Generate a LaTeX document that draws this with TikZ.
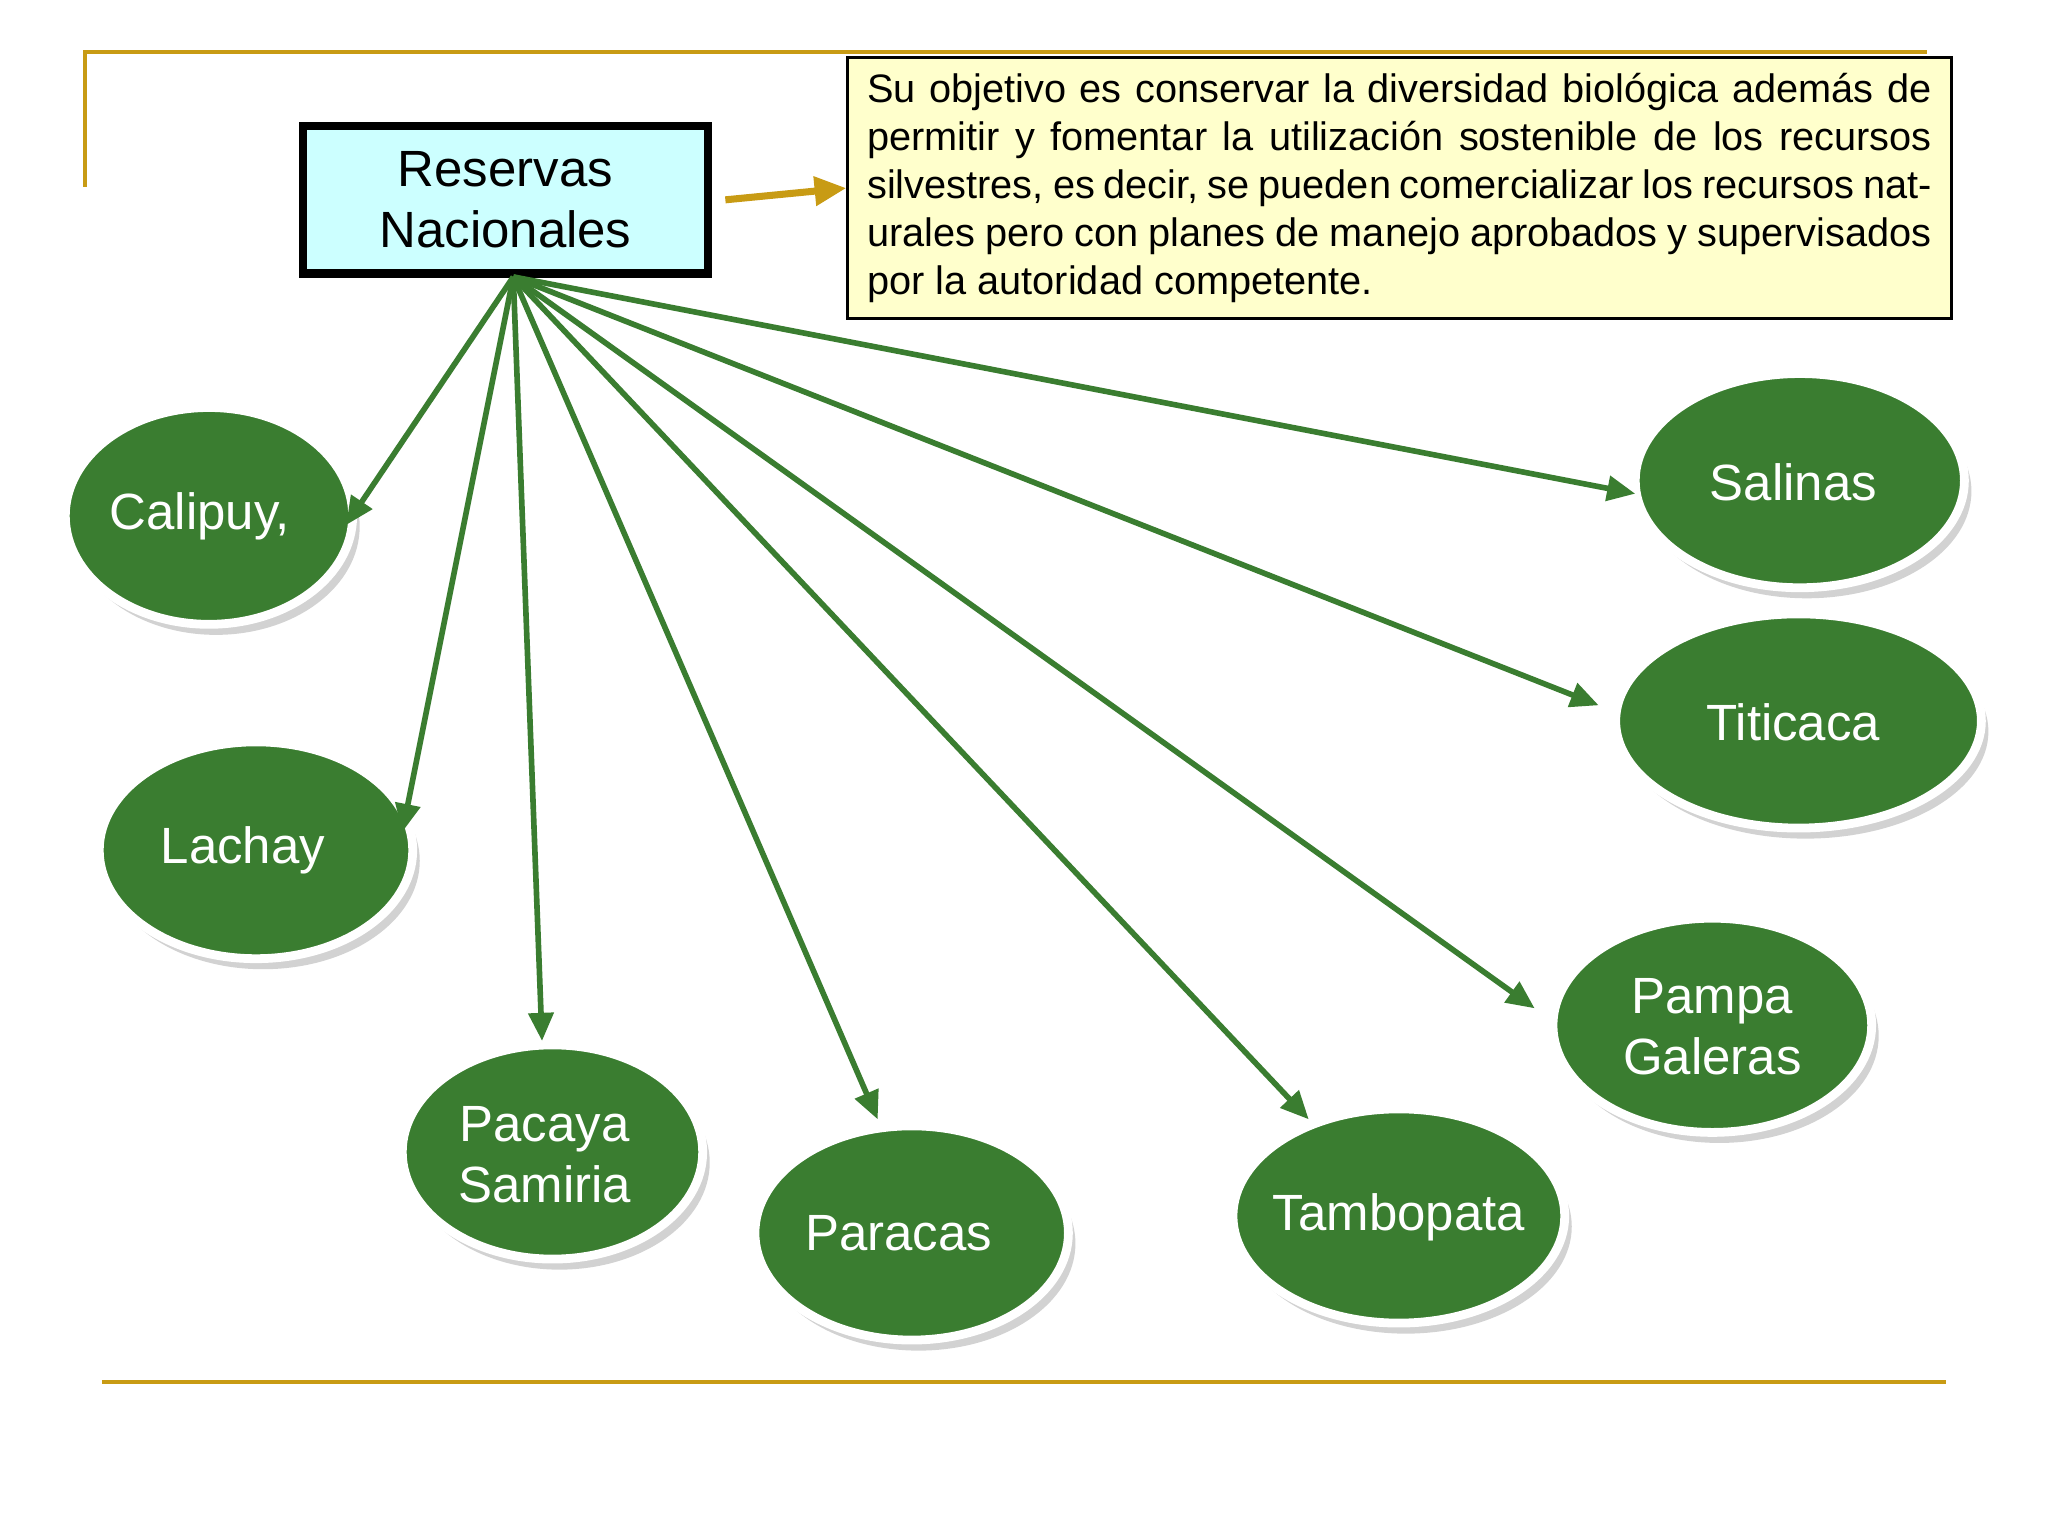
\documentclass[tikz,border=0pt]{standalone}
\usepackage{fontspec}
\setmainfont{Liberation Sans}
\usetikzlibrary{shapes.geometric,shadows,arrows.meta}
\definecolor{gold}{RGB}{200,155,20}
\definecolor{leaf}{RGB}{58,125,48}
\definecolor{lcyan}{RGB}{204,255,255}
\definecolor{lyel}{RGB}{255,255,204}
\tikzset{
 ell/.style={ellipse,fill=leaf,draw=white,line width=2.5pt,inner sep=0pt,
   drop shadow={opacity=0.35,shadow xshift=2pt,shadow yshift=-3pt}},
 etxt/.style={text=white,font=\fontsize{14.5}{17.5}\selectfont,align=center},
 con/.style={draw=leaf,line width=1.6pt,-{Triangle[length=8pt,width=7pt]}},
 rule/.style={draw=gold,line width=1.2pt}
}
\begin{document}
\begin{tikzpicture}[x=0.013061cm,y=-0.013061cm]
\useasboundingbox (0,0) rectangle (1568,1176);
\fill[white] (0,0) rectangle (1568,1176);
\draw[rule] (65,143) -- (65,40) -- (1475,40);
\draw[rule] (78,1058) -- (1490,1058);
\node[draw=black,line width=2.5pt,fill=lcyan,minimum width=310*0.013061cm,minimum height=113*0.013061cm,
  font=\fontsize{14.5}{17.5}\selectfont,align=center] (res) at (387,153) {Reservas\\Nacionales};
\node[draw=black,line width=0.8pt,fill=lyel,minimum width=845*0.013061cm,minimum height=200*0.013061cm,
  font=\fontsize{11.3}{13.6}\selectfont,text width=815*0.013061cm,align=justify,inner sep=0pt] (obj) at (1071.5,144)
 {Su objetivo es conservar la diversidad biológica además de permitir y fomentar la utilización sostenible de los recursos silvestres, es decir, se pueden comercializar los recursos naturales pero con planes de manejo aprobados y supervisados por la autoridad competente.};
\draw[draw=gold,line width=2pt,-{Triangle[length=9pt,width=8pt]}] (res.east)++(10,0) coordinate (ra) (ra) -- (obj.west);
\node[ell,minimum width=220*0.013061cm,minimum height=166*0.013061cm] (cal) at (160,395) {};
\node[etxt] at (153,395) {Calipuy,};
\node[ell,minimum width=240*0.013061cm,minimum height=166*0.013061cm] (lac) at (196,651) {};
\node[etxt] at (186,651) {Lachay};
\node[ell,minimum width=230*0.013061cm,minimum height=164*0.013061cm] (pac) at (423,882) {};
\node[etxt] at (417,884) {Pacaya\\Samiria};
\node[ell,minimum width=240*0.013061cm,minimum height=164*0.013061cm] (par) at (698,944) {};
\node[etxt] at (688,944) {Paracas};
\node[ell,minimum width=254*0.013061cm,minimum height=164*0.013061cm] (tam) at (1071,931) {};
\node[etxt] at (1071,932) {Tambopata};
\node[ell,minimum width=244*0.013061cm,minimum height=164*0.013061cm] (pam) at (1311,785) {};
\node[etxt] at (1311,786) {Pampa\\Galeras};
\node[ell,minimum width=280*0.013061cm,minimum height=164*0.013061cm] (tit) at (1377,552) {};
\node[etxt] at (1373,553) {Titicaca};
\node[ell,minimum width=252*0.013061cm,minimum height=164*0.013061cm] (sal) at (1378,368) {};
\node[etxt] at (1373,369) {Salinas};
\coordinate (hub) at (393,212);
\coordinate (e1) at (265,402);
\coordinate (e2) at (308,637);
\coordinate (e3) at (415,797);
\coordinate (e4) at (672,857);
\coordinate (e5) at (1002,857);
\coordinate (e6) at (1175,772);
\coordinate (e7) at (1224,540);
\coordinate (e8) at (1252,378);
\foreach \e in {e1,e2,e3,e4,e5,e6,e7,e8} \draw[con] (hub) -- (\e);
\end{tikzpicture}
\end{document}
